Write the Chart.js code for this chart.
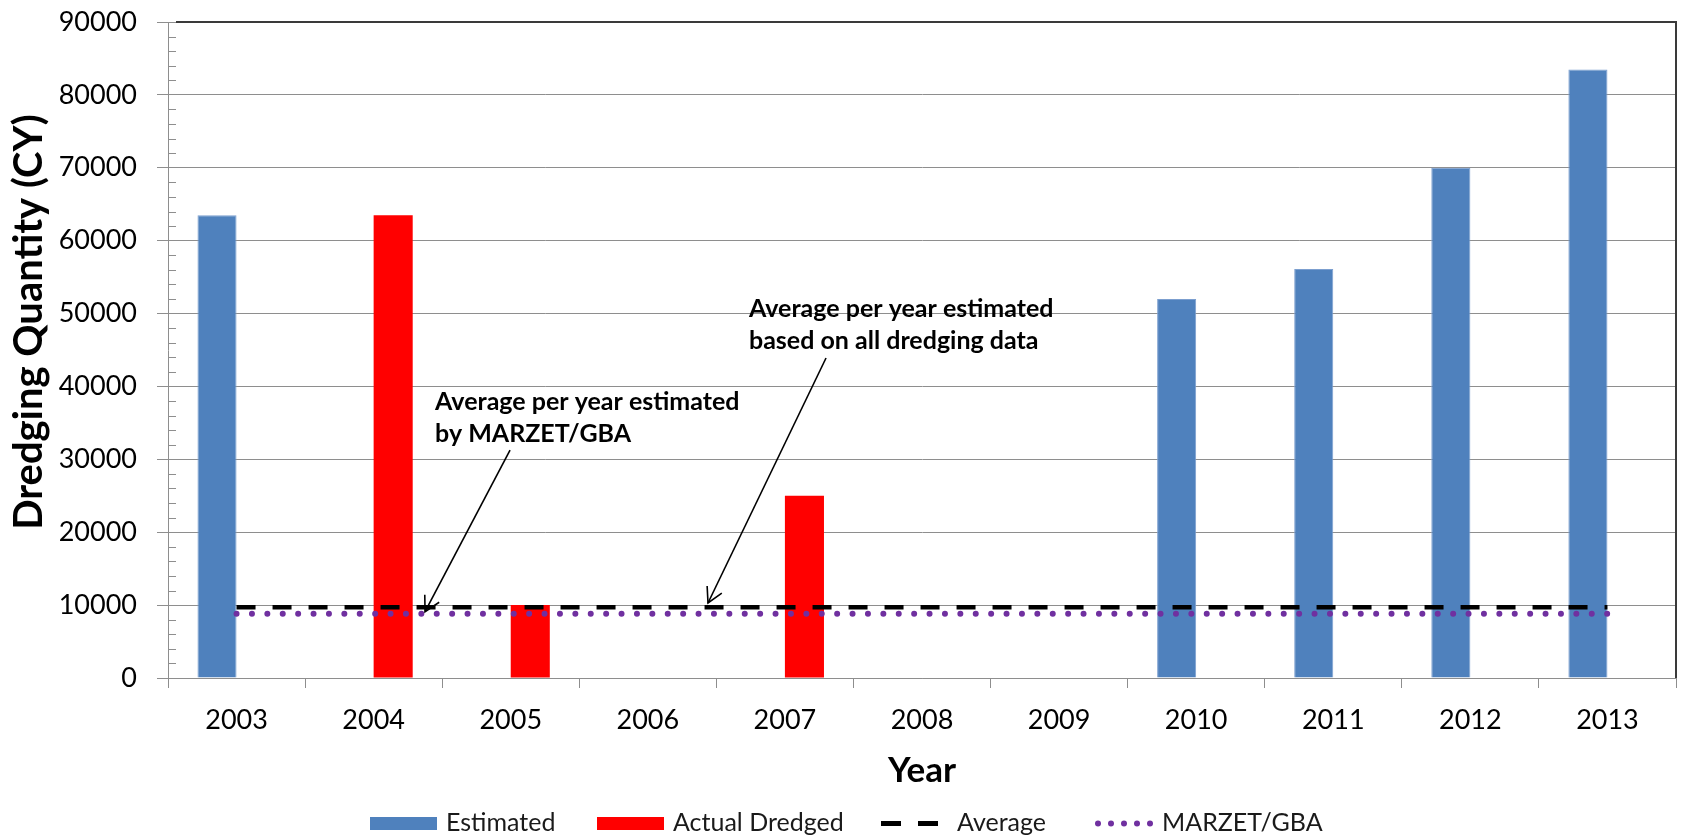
<!DOCTYPE html>
<html>
<head>
<meta charset="utf-8">
<title>Dredging Quantity by Year</title>
<script src="https://cdn.jsdelivr.net/npm/chart.js@4.4.1/dist/chart.umd.min.js"></script>
<style>
  html, body { margin: 0; padding: 0; background: #ffffff; }
  canvas { display: block; }
</style>
</head>
<body>
<canvas id="chart" width="1681" height="837"></canvas>
<script>
// ---- data ----
const years = ['2003', '2004', '2005', '2006', '2007', '2008', '2009', '2010', '2011', '2012', '2013'];
const estimated = [63500, null, null, null, null, null, null, 52000, 56100, 70000, 83500];
const actualDredged = [null, 63500, 10000, null, 25000, null, null, null, null, null, null];
const averageAllData = [9700, 9700, 9700, 9700, 9700, 9700, 9700, 9700, 9700, 9700, 9700];
const marzetGba = [8800, 8800, 8800, 8800, 8800, 8800, 8800, 8800, 8800, 8800, 8800];
const yTickValues = [0, 10000, 20000, 30000, 40000, 50000, 60000, 70000, 80000, 90000];

const seriesNames = ['Estimated', 'Actual Dredged', 'Average', 'MARZET/GBA'];
const axisTitles = { x: 'Year', y: 'Dredging Quantity (CY)' };
const noteTexts = [
  ['Average per year estimated', 'by MARZET/GBA'],
  ['Average per year estimated', 'based on all dredging data']
];

// ---- look ----
const FONT = 'Lato, "Open Sans", sans-serif';
const GRID = '#8e8e8e';

// callouts: text anchor and arrow, given as (category position, value)
const noteLayout = [
  { text: [1.448, 36770], from: [1.995, 31280], to: [1.375, 9100] },
  { text: [3.738, 49530], from: [4.300, 43900], to: [3.439, 10290] }
];

// legend entry left edges (px)
const legendStarts = [370, 597, 881, 1095];

const extras = {
  id: 'extras',
  afterDatasetsDraw(chart) {
    const { ctx, chartArea: a, scales: { x, y } } = chart;
    ctx.save();

    // minor ticks inside the value axis
    ctx.strokeStyle = GRID;
    ctx.lineWidth = 1;
    for (let v = 2000; v < 90000; v += 2000) {
      if (v % 10000 === 0) continue;
      const py = Math.round(y.getPixelForValue(v)) + 0.5;
      ctx.beginPath();
      ctx.moveTo(a.left, py);
      ctx.lineTo(a.left + 8, py);
      ctx.stroke();
    }

    // plot frame on top and right
    ctx.strokeStyle = '#3a3a3a';
    ctx.lineWidth = 2;
    ctx.beginPath();
    ctx.moveTo(a.left + 8, a.top);
    ctx.lineTo(a.right, a.top);
    ctx.lineTo(a.right, a.bottom);
    ctx.stroke();

    // callouts
    ctx.fillStyle = '#000';
    ctx.strokeStyle = '#000';
    ctx.font = 'bold 25px ' + FONT;
    ctx.textAlign = 'left';
    ctx.textBaseline = 'alphabetic';
    noteLayout.forEach((n, i) => {
      const tx = x.getPixelForValue(n.text[0]);
      const ty = y.getPixelForValue(n.text[1]);
      noteTexts[i].forEach((line, k) => ctx.fillText(line, tx, ty + k * 32));

      const fx = x.getPixelForValue(n.from[0]), fy = y.getPixelForValue(n.from[1]);
      const px = x.getPixelForValue(n.to[0]), py = y.getPixelForValue(n.to[1]);
      ctx.lineWidth = 1.6;
      ctx.beginPath();
      ctx.moveTo(fx, fy);
      ctx.lineTo(px, py);
      ctx.stroke();
      const ang = Math.atan2(py - fy, px - fx);
      const hl = 17, spread = 0.5;
      ctx.beginPath();
      ctx.moveTo(px - hl * Math.cos(ang - spread), py - hl * Math.sin(ang - spread));
      ctx.lineTo(px, py);
      ctx.lineTo(px - hl * Math.cos(ang + spread), py - hl * Math.sin(ang + spread));
      ctx.stroke();
    });
    ctx.restore();
  },
  afterDraw(chart) {
    const { ctx } = chart;
    ctx.save();

    // value axis title
    ctx.fillStyle = '#000';
    ctx.font = 'bold 40px ' + FONT;
    ctx.textAlign = 'center';
    ctx.textBaseline = 'alphabetic';
    ctx.translate(42, 322);
    ctx.rotate(-Math.PI / 2);
    ctx.fillText(axisTitles.y, 0, 0);
    ctx.setTransform(1, 0, 0, 1, 0, 0);

    // legend
    ctx.font = '25px ' + FONT;
    const midY = 823.5, baseY = 831;
    chart.data.datasets.forEach((d, i) => {
      const cx = legendStarts[i];
      let textX;
      if (d.type === 'line') {
        ctx.fillStyle = d.borderColor;
        if (d.borderDash && d.borderDash[0] > 0) {
          ctx.fillRect(cx, midY - 2.5, 20, 5);
          ctx.fillRect(cx + 37, midY - 2.5, 20, 5);
          textX = cx + 76;
        } else {
          for (let k = 0; k < 5; k++) {
            ctx.beginPath();
            ctx.arc(cx + 3 + k * 13, midY, 3, 0, Math.PI * 2);
            ctx.fill();
          }
          textX = cx + 67;
        }
      } else {
        ctx.fillStyle = d.backgroundColor;
        ctx.fillRect(cx, midY - 6.5, 67, 13);
        textX = cx + 76;
      }
      ctx.fillStyle = '#1a1a1a';
      ctx.textAlign = 'left';
      ctx.fillText(d.label, textX, baseY);
    });
    ctx.restore();
  }
};

function build() {
  new Chart(document.getElementById('chart'), {
    type: 'bar',
    data: {
      labels: years,
      datasets: [
        { label: seriesNames[0], data: estimated, backgroundColor: '#4F81BD',
          borderColor: '#7c9fcf', borderWidth: 1, order: 2 },
        { label: seriesNames[1], data: actualDredged, backgroundColor: '#FF0000',
          borderWidth: 0, order: 2 },
        { type: 'line', label: seriesNames[2], data: averageAllData, borderColor: '#000000',
          borderWidth: 4.5, borderDash: [19, 17], pointRadius: 0, fill: false, order: 0 },
        { type: 'line', label: seriesNames[3], data: marzetGba, borderColor: '#7030A0',
          borderWidth: 6, borderDash: [0, 15.4], borderCapStyle: 'round', pointRadius: 0,
          fill: false, order: 1 }
      ]
    },
    options: {
      responsive: false,
      animation: false,
      devicePixelRatio: 1,
      datasets: { bar: { categoryPercentage: 0.57, barPercentage: 1.0 } },
      layout: { padding: { left: 0, right: 5, top: 22, bottom: 0 } },
      plugins: { legend: { display: false }, tooltip: { enabled: false } },
      scales: {
        x: {
          grid: { offset: true, drawOnChartArea: false, drawTicks: true, tickLength: 10, color: GRID },
          border: { color: GRID, width: 1 },
          ticks: { font: { family: FONT, size: 27 }, color: '#000', padding: 16, maxRotation: 0 },
          title: { display: true, text: axisTitles.x, font: { family: FONT, size: 35, weight: 'bold' },
                   color: '#000', padding: { top: 0, bottom: 45 } },
          afterFit(s) { s.height = 159; s.paddingLeft = 0; s.paddingRight = 0; }
        },
        y: {
          min: 0, max: 90000,
          afterBuildTicks(s) { s.ticks = yTickValues.map(v => ({ value: v })); },
          grid: { color: GRID, lineWidth: 1, tickLength: 11, drawTicks: true },
          border: { color: GRID, width: 1 },
          ticks: { font: { family: FONT, size: 27 }, color: '#000', padding: 20,
                   callback: v => String(v) },
          afterFit(s) { s.width = 168; s.paddingTop = 0; s.paddingBottom = 0; }
        }
      }
    },
    plugins: [extras]
  });
}

Promise.all([
  document.fonts.load('24px Lato'),
  document.fonts.load('bold 24px Lato')
]).then(build, build);
</script>
</body>
</html>
